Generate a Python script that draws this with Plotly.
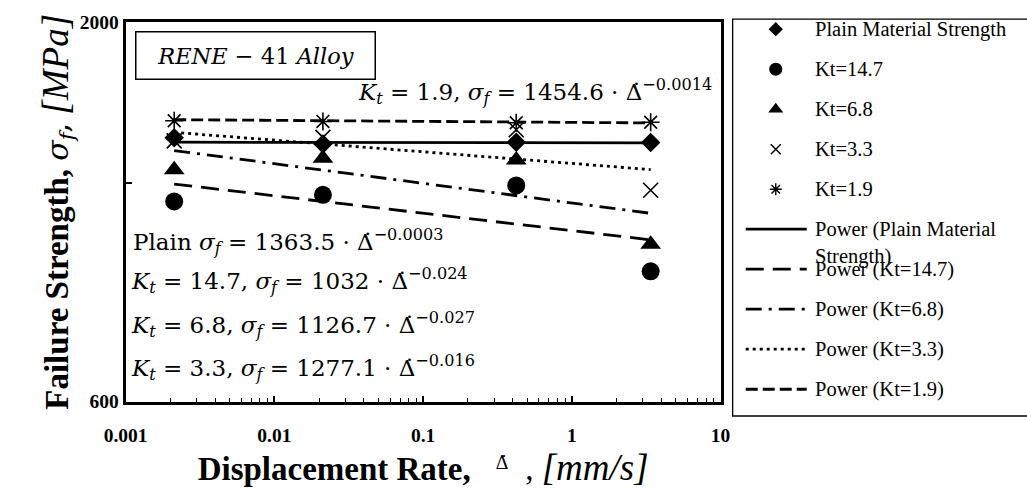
import numpy as np
import plotly.graph_objects as go

W, H = 1027, 495

# Displacement rates [mm/s]
rate = [0.00212, 0.0212, 0.423, 3.39]

# Failure strength [MPa] per specimen type
plain = [1385, 1358, 1366, 1365]
kt_14_7 = [1132, 1156, 1191, 907]
kt_6_8 = [1252, 1298, 1291, 988]
kt_3_3 = [1372, 1387, 1421, 1173]
kt_1_9 = [1462, 1459, 1453, 1455]

series_names = ["Plain Material Strength", "Kt=14.7", "Kt=6.8", "Kt=3.3", "Kt=1.9"]
series_vals = [plain, kt_14_7, kt_6_8, kt_3_3, kt_1_9]
kt_labels = [None, "14.7", "6.8", "3.3", "1.9"]

# Power-law fits: sigma_f = a * rate^b
fit_a = [1363.5, 1032, 1126.7, 1277.1, 1454.6]
fit_b = [-0.0003, -0.024, -0.027, -0.016, -0.0014]

x_ticks = [0.001, 0.01, 0.1, 1, 10]
x_ticktext = ["0.001", "0.01", "0.1", "1", "10"]
y_ticks = [600, 1200, 2000]
y_ticktext = ["600", "", "2000"]

# marker styles per series
markers = [
    dict(symbol="diamond", size=15, color="black"),
    dict(symbol="circle", size=18, color="black"),
    dict(symbol="triangle-up", size=18, color="black"),
    dict(symbol="x-thin-open", size=15, color="black", line=dict(width=1.6, color="black")),
    dict(symbol="asterisk-open", size=15, color="black", line=dict(width=1.6, color="black")),
]
legend_markers = [
    dict(symbol="diamond", size=11, color="black"),
    dict(symbol="circle", size=13, color="black"),
    dict(symbol="triangle-up", size=13, color="black"),
    dict(symbol="x-thin-open", size=10, color="black", line=dict(width=1.4, color="black")),
    dict(symbol="asterisk-open", size=10, color="black", line=dict(width=1.4, color="black")),
]
dashes = ["solid", "18px,9px", "16px,7px,3px,7px", "3px,4px", "12px,5px"]

SERIF = "Liberation Serif"
MATH = "DejaVu Serif"
NBSP = "\u00a0"
D_DOT = "\u0394\u0307"  # Delta with combining dot above


def px(x):
    return x / W


def py(y):
    return 1 - y / H


fig = go.Figure()

# fitted power-law lines over the tested range
xs = np.geomspace(min(rate), max(rate), 60)
for a, b, d in zip(fit_a, fit_b, dashes):
    fig.add_trace(go.Scatter(
        x=xs, y=a * xs ** b, mode="lines",
        line=dict(color="black", width=2.8, dash=d),
        showlegend=False, hoverinfo="skip"))

# measured strengths
for name, vals, mk in zip(series_names, series_vals, markers):
    fig.add_trace(go.Scatter(x=rate, y=vals, mode="markers", name=name,
                             marker=mk, showlegend=False))

# ---- legend panel (own axes on the right) ----
legend_rows = series_names + [
    "Power (Plain Material<br>Strength)", "Power (Kt=14.7)", "Power (Kt=6.8)",
    "Power (Kt=3.3)", "Power (Kt=1.9)"]
SAMPLE_X = (13, 76)
MARK_X = 44
TEXT_X = 82
for i, mk in enumerate(legend_markers):
    fig.add_trace(go.Scatter(x=[MARK_X], y=[i], mode="markers", marker=mk,
                             xaxis="x2", yaxis="y2", showlegend=False, hoverinfo="skip"))
for j, d in enumerate(dashes):
    fig.add_trace(go.Scatter(x=list(SAMPLE_X), y=[5 + j, 5 + j], mode="lines",
                             line=dict(color="black", width=2.8, dash=d),
                             xaxis="x2", yaxis="y2", showlegend=False, hoverinfo="skip"))

annotations = []
for i, txt in enumerate(legend_rows):
    two_line = "<br>" in txt
    annotations.append(dict(
        x=TEXT_X, y=i, xref="x2", yref="y2", text=txt, showarrow=False,
        xanchor="left", yanchor="top" if two_line else "middle",
        yshift=13 if two_line else 0, align="left",
        font=dict(family=SERIF, size=20.5, color="black")))


# ---- equations of the fits ----
def fmt_b(b):
    return f"{b:g}".replace("-", "−")


def eq_text(k):
    tail = (f"<i>σ</i><sub><i>f</i></sub> = {fit_a[k]:g} · {D_DOT}"
            f"<sup>{fmt_b(fit_b[k])}</sup>")
    if kt_labels[k] is None:
        return "Plain " + tail
    return f"<i>K</i><sub><i>t</i></sub> = {kt_labels[k]}, " + tail


eq_pos = {4: (345, 85), 0: (112, 242), 1: (110, 283), 2: (110, 328), 3: (110, 373)}
for k, (ex, ey) in eq_pos.items():
    annotations.append(dict(
        x=px(ex), y=py(ey), xref="paper", yref="paper", text=eq_text(k),
        showarrow=False, xanchor="left", yanchor="middle",
        font=dict(family=MATH, size=23, color="black")))

# alloy name box
annotations.append(dict(
    x=px(241), y=py(47.5), xref="paper", yref="paper",
    xanchor="center", yanchor="middle",
    text="<i>RENE</i> − 41 <i>Alloy</i>", showarrow=False,
    width=236, height=44, bordercolor="black", borderwidth=1.5, borderpad=1,
    bgcolor="white", font=dict(family=MATH, size=22.5, color="black")))

shapes = [dict(type="rect", xref="paper", yref="paper",
               x0=px(733.5), x1=1.05, y0=py(424), y1=py(9.5),
               line=dict(color="black", width=1.3), fillcolor="rgba(0,0,0,0)")]

minor_vals = [m * 10.0 ** e for e in range(-3, 1) for m in range(2, 10)]

x_title = (NBSP * 4 + "<b>Displacement Rate,</b>" + NBSP * 3 +
           "<span style='font-family:DejaVu Serif;font-size:26px'><sup>" + D_DOT +
           "</sup></span>" + NBSP * 2 +
           ", <span style='font-size:37px'><i>[mm/s]</i></span>")
y_title = ("<b>Failure Strength,</b> <span style='font-family:DejaVu Serif;font-size:30px'>"
           "<i>σ</i><sub><i>f</i></sub>,</span> "
           "<span style='font-size:37px'><i>[MPa]</i></span>")

fig.update_layout(
    width=W, height=H,
    margin=dict(l=0, r=0, t=0, b=0),
    paper_bgcolor="white", plot_bgcolor="white",
    showlegend=False,
    xaxis=dict(
        type="log", range=[-3, 1], domain=[px(107), px(721)],
        tickmode="array", tickvals=x_ticks, ticktext=x_ticktext,
        ticks="inside", ticklen=6, tickwidth=1.5, tickcolor="black",
        minor=dict(tickmode="array", tickvals=minor_vals, ticks="inside",
                   ticklen=3.5, tickwidth=1.3, tickcolor="black", showgrid=False),
        showline=True, linewidth=3, linecolor="black", mirror=True,
        showgrid=False, zeroline=False, ticklabelstandoff=14,
        tickfont=dict(family=SERIF, size=19.5, color="black", weight="bold"),
        title=dict(text=x_title, font=dict(family=SERIF, size=33, color="black"),
                   standoff=12),
    ),
    yaxis=dict(
        type="log", range=[np.log10(600), np.log10(2000)],
        domain=[py(409), py(12.5)],
        tickmode="array", tickvals=y_ticks, ticktext=y_ticktext,
        ticks="inside", ticklen=6, tickwidth=1.5, tickcolor="black",
        showline=True, linewidth=3, linecolor="black", mirror=True,
        showgrid=False, zeroline=False,
        tickfont=dict(family=SERIF, size=19.5, color="black", weight="bold"),
        title=dict(text=y_title, font=dict(family=SERIF, size=33, color="black"),
                   standoff=2),
    ),
    xaxis2=dict(domain=[px(734), 1], range=[0, W - 734], visible=False,
                anchor="y2", fixedrange=True),
    yaxis2=dict(domain=[py(421.1), py(3.3)], range=[9.6, -0.4], visible=False,
                anchor="x2", fixedrange=True),
    annotations=annotations,
    shapes=shapes,
)

fig.write_html("out.html")
